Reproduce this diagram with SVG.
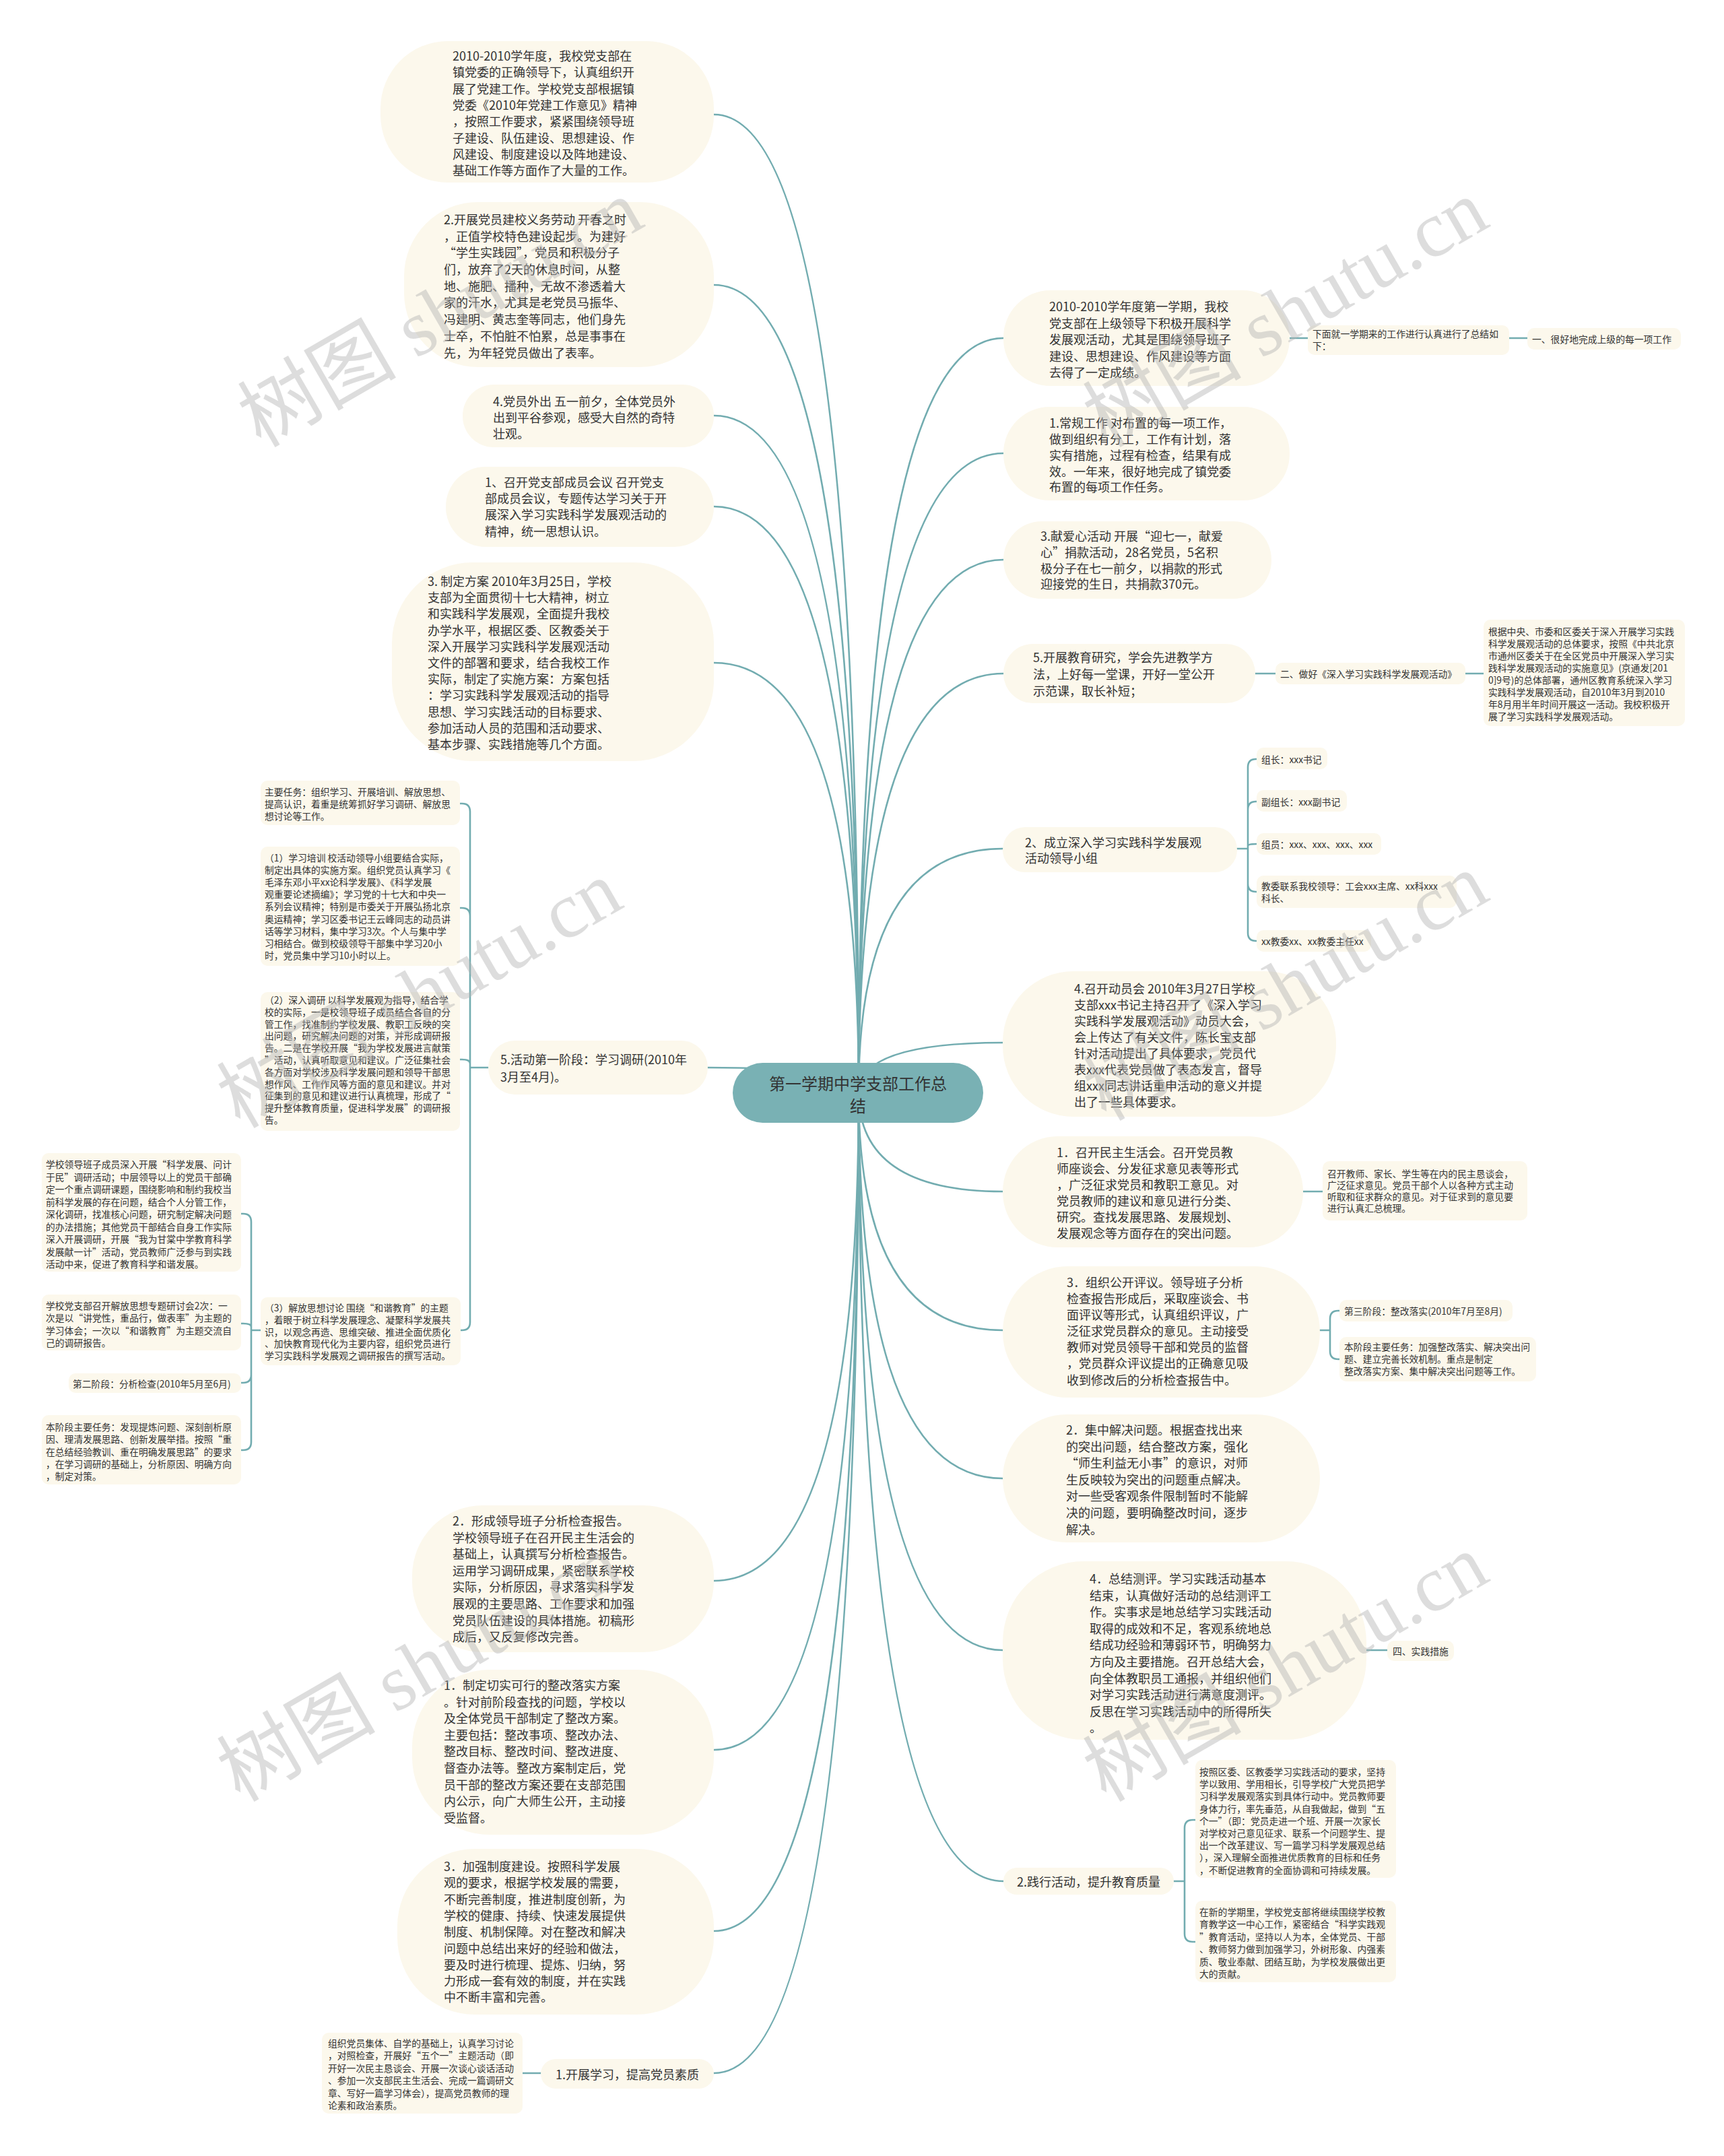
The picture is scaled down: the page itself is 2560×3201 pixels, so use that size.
<svg xmlns="http://www.w3.org/2000/svg" width="2560" height="3201" viewBox="0 0 2560 3201">
<style>
.n{fill:#fcf8ec}
.t{font-family:"Noto Sans CJK SC","Noto Sans",sans-serif;fill:#333;dominant-baseline:central}
.b{font-size:18px}
.s{font-size:13.8px}
.m{font-size:24px}
.c{fill:none;stroke:#72acb0;stroke-width:2.6;stroke-linecap:round;stroke-linejoin:round}
.wm{font-family:"Liberation Serif","Noto Sans CJK SC",serif;font-size:118px;fill:#b4b4b4;fill-opacity:.45}
</style>
<rect width="2560" height="3201" fill="#ffffff"/>
<g id="connectors">
<path class="c" d="M1275 1622 Q1275 170 1060 170"/>
<path class="c" d="M1275 1622 Q1275 423 1060 423"/>
<path class="c" d="M1275 1622 Q1275 617 1060 617"/>
<path class="c" d="M1275 1622 Q1275 752 1060 752"/>
<path class="c" d="M1275 1622 Q1275 984 1060 984"/>
<path class="c" d="M1275 1622 Q1275 1585 1051 1585"/>
<path class="c" d="M1275 1622 Q1275 2347 1060 2347"/>
<path class="c" d="M1275 1622 Q1275 2598 1060 2598"/>
<path class="c" d="M1275 1622 Q1275 2867 1060 2867"/>
<path class="c" d="M1275 1622 Q1275 3078 1060 3078"/>
<path class="c" d="M1275 1622 Q1275 502 1490 502"/>
<path class="c" d="M1275 1622 Q1275 673 1490 673"/>
<path class="c" d="M1275 1622 Q1275 831 1490 831"/>
<path class="c" d="M1275 1622 Q1275 1000 1490 1000"/>
<path class="c" d="M1275 1622 Q1275 1260 1489 1260"/>
<path class="c" d="M1275 1622 Q1275 1548 1489 1548"/>
<path class="c" d="M1275 1622 Q1275 1769 1489 1769"/>
<path class="c" d="M1275 1622 Q1275 1975 1489 1975"/>
<path class="c" d="M1275 1622 Q1275 2195 1489 2195"/>
<path class="c" d="M1275 1622 Q1275 2450 1489 2450"/>
<path class="c" d="M1275 1622 Q1275 2793 1490 2793"/>
<path class="c" d="M1915 502 L1942 502 M2241 502 L2268 502"/>
<path class="c" d="M1864 1000 L1894 1000 M2176 1000 L2203 1000"/>
<path class="c" d="M1935 1769 L1964 1769"/>
<path class="c" d="M2029 2450 L2060 2450"/>
<path class="c" d="M803 3078 L776 3078"/>
<path class="c" d="M1837 1260 L1853 1260 M1853 1260 L1853 1139 Q1853 1127 1865 1127 L1866 1127 M1853 1260 L1853 1202 Q1853 1190 1865 1190 L1866 1190 M1853 1260 L1853 1256 Q1853 1253 1866 1253 M1853 1260 L1853 1312 Q1853 1324 1865 1324 L1866 1324 M1853 1260 L1853 1385 Q1853 1397 1865 1397 L1866 1397"/>
<path class="c" d="M1960 1975 L1975 1975 M1975 1975 L1975 1958 Q1975 1946 1987 1946 L1989 1946 M1975 1975 L1975 2006 Q1975 2018 1987 2018 L1989 2018"/>
<path class="c" d="M1743 2793 L1759 2793 M1759 2793 L1759 2714 Q1759 2702 1771 2702 L1775 2702 M1759 2793 L1759 2871 Q1759 2883 1771 2883 L1775 2883"/>
<path class="c" d="M725 1585 L698 1585 M698 1585 L698 1205 Q698 1193 686 1193 L683 1193 M698 1585 L698 1360 Q698 1348 686 1348 L683 1348 M698 1585 L698 1579 Q698 1573 686 1573 L683 1573 M698 1585 L698 1963 Q698 1975 686 1975 L684 1975"/>
<path class="c" d="M387 1975 L373 1975 M373 1975 L373 1814 Q373 1802 361 1802 L358 1802 M373 1975 L373 1970 Q373 1965 361 1965 L358 1965 M373 1975 L373 2041 Q373 2053 361 2053 L358 2053 M373 1975 L373 2141 Q373 2153 361 2153 L358 2153"/>
</g>

<g id="center">
<rect x="1088" y="1578" width="372" height="89" rx="44.5" fill="#79b1b4"/>
<text class="t m" text-anchor="middle"><tspan x="1274" y="1607">第一学期中学支部工作总</tspan><tspan x="1274" y="1640">结</tspan></text>
</g>

<g id="L1"><rect class="n" x="565" y="61" width="495" height="210" rx="100"/>
<text class="t b"><tspan x="672" y="82">2010-2010学年度，我校党支部在</tspan><tspan x="672" y="106">镇党委的正确领导下，认真组织开</tspan><tspan x="672" y="131">展了党建工作。学校党支部根据镇</tspan><tspan x="672" y="155">党委《2010年党建工作意见》精神</tspan><tspan x="672" y="179">，按照工作要求，紧紧围绕领导班</tspan><tspan x="672" y="204">子建设、队伍建设、思想建设、作</tspan><tspan x="672" y="228">风建设、制度建设以及阵地建设、</tspan><tspan x="672" y="252">基础工作等方面作了大量的工作。</tspan></text></g>

<g id="L2"><rect class="n" x="600" y="300" width="460" height="245" rx="110"/>
<text class="t b"><tspan x="659" y="325">2.开展党员建校义务劳动 开春之时</tspan><tspan x="659" y="350">，正值学校特色建设起步。为建好</tspan><tspan x="659" y="374">“学生实践园”，党员和积极分子</tspan><tspan x="659" y="399">们，放弃了2天的休息时间，从整</tspan><tspan x="659" y="424">地、施肥、播种，无故不渗透着大</tspan><tspan x="659" y="448">家的汗水，尤其是老党员马振华、</tspan><tspan x="659" y="473">冯建明、黄志奎等同志，他们身先</tspan><tspan x="659" y="498">士卒，不怕脏不怕累，总是事事在</tspan><tspan x="659" y="523">先，为年轻党员做出了表率。</tspan></text></g>

<g id="L3"><rect class="n" x="687" y="571" width="373" height="93" rx="46"/>
<text class="t b"><tspan x="732" y="595">4.党员外出 五一前夕，全体党员外</tspan><tspan x="732" y="619">出到平谷参观，感受大自然的奇特</tspan><tspan x="732" y="643">壮观。</tspan></text></g>

<g id="L4"><rect class="n" x="662" y="693" width="398" height="119" rx="59"/>
<text class="t b"><tspan x="720" y="715">1、召开党支部成员会议 召开党支</tspan><tspan x="720" y="739">部成员会议，专题传达学习关于开</tspan><tspan x="720" y="763">展深入学习实践科学发展观活动的</tspan><tspan x="720" y="788">精神，统一思想认识。</tspan></text></g>

<g id="L5"><rect class="n" x="582" y="835" width="478" height="295" rx="120"/>
<text class="t b"><tspan x="635" y="862">3. 制定方案 2010年3月25日，学校</tspan><tspan x="635" y="886">支部为全面贯彻十七大精神，树立</tspan><tspan x="635" y="910">和实践科学发展观，全面提升我校</tspan><tspan x="635" y="935">办学水平，根据区委、区教委关于</tspan><tspan x="635" y="959">深入开展学习实践科学发展观活动</tspan><tspan x="635" y="983">文件的部署和要求，结合我校工作</tspan><tspan x="635" y="1007">实际，制定了实施方案：方案包括</tspan><tspan x="635" y="1031">：学习实践科学发展观活动的指导</tspan><tspan x="635" y="1056">思想、学习实践活动的目标要求、</tspan><tspan x="635" y="1080">参加活动人员的范围和活动要求、</tspan><tspan x="635" y="1104">基本步骤、实践措施等几个方面。</tspan></text></g>

<g id="L6"><rect class="n" x="725" y="1545" width="326" height="80" rx="40"/>
<text class="t b"><tspan x="743" y="1572">5.活动第一阶段：学习调研(2010年</tspan><tspan x="743" y="1598">3月至4月)。</tspan></text></g>

<g id="C1"><rect class="n" x="387" y="1159" width="296" height="66" rx="10"/>
<text class="t s"><tspan x="393" y="1175">主要任务：组织学习、开展培训、解放思想、</tspan><tspan x="393" y="1193">提高认识，着重是统筹抓好学习调研、解放思</tspan><tspan x="393" y="1211">想讨论等工作。</tspan></text></g>

<g id="C2"><rect class="n" x="387" y="1257" width="296" height="177" rx="10"/>
<text class="t s"><tspan x="393" y="1273">（1）学习培训 校活动领导小组要结合实际，</tspan><tspan x="393" y="1291">制定出具体的实施方案。组织党员认真学习《</tspan><tspan x="393" y="1309">毛泽东邓小平xx论科学发展》、《科学发展</tspan><tspan x="393" y="1327">观重要论述摘编》；学习党的十七大和中央一</tspan><tspan x="393" y="1345">系列会议精神；特别是市委关于开展弘扬北京</tspan><tspan x="393" y="1364">奥运精神；学习区委书记王云峰同志的动员讲</tspan><tspan x="393" y="1382">话等学习材料，集中学习3次。个人与集中学</tspan><tspan x="393" y="1400">习相结合。做到校级领导干部集中学习20小</tspan><tspan x="393" y="1418">时，党员集中学习10小时以上。</tspan></text></g>

<g id="C3"><rect class="n" x="387" y="1473" width="296" height="206" rx="10"/>
<text class="t s"><tspan x="393" y="1484">（2）深入调研 以科学发展观为指导，结合学</tspan><tspan x="393" y="1502">校的实际，一是校领导班子成员结合各自的分</tspan><tspan x="393" y="1520">管工作，找准制约学校发展、教职工反映的突</tspan><tspan x="393" y="1537">出问题，研究解决问题的对策，并形成调研报</tspan><tspan x="393" y="1555">告。二是在学校开展“我为学校发展进言献策</tspan><tspan x="393" y="1573">”活动，认真听取意见和建议。广泛征集社会</tspan><tspan x="393" y="1591">各方面对学校涉及科学发展问题和领导干部思</tspan><tspan x="393" y="1609">想作风、工作作风等方面的意见和建议。并对</tspan><tspan x="393" y="1626">征集到的意见和建议进行认真梳理，形成了“</tspan><tspan x="393" y="1644">提升整体教育质量，促进科学发展”的调研报</tspan><tspan x="393" y="1662">告。</tspan></text></g>

<g id="C4"><rect class="n" x="387" y="1926" width="297" height="101" rx="10"/>
<text class="t s"><tspan x="393" y="1941">（3）解放思想讨论 围绕“和谐教育”的主题</tspan><tspan x="393" y="1959">，着眼于树立科学发展理念、凝聚科学发展共</tspan><tspan x="393" y="1977">识，以观念再造、思维突破、推进全面优质化</tspan><tspan x="393" y="1994">、加快教育现代化为主要内容，组织党员进行</tspan><tspan x="393" y="2012">学习实践科学发展观之调研报告的撰写活动。</tspan></text></g>

<g id="D1"><rect class="n" x="62" y="1712" width="296" height="176" rx="10"/>
<text class="t s"><tspan x="68" y="1728">学校领导班子成员深入开展“科学发展、问计</tspan><tspan x="68" y="1747">于民”调研活动；中层领导以上的党员干部确</tspan><tspan x="68" y="1765">定一个重点调研课题，围绕影响和制约我校当</tspan><tspan x="68" y="1784">前科学发展的存在问题，结合个人分管工作，</tspan><tspan x="68" y="1802">深化调研，找准核心问题，研究制定解决问题</tspan><tspan x="68" y="1821">的办法措施；其他党员干部结合自身工作实际</tspan><tspan x="68" y="1839">深入开展调研，开展“我为甘棠中学教育科学</tspan><tspan x="68" y="1858">发展献一计”活动，党员教师广泛参与到实践</tspan><tspan x="68" y="1876">活动中来，促进了教育科学和谐发展。</tspan></text></g>

<g id="D2"><rect class="n" x="62" y="1922" width="296" height="83" rx="10"/>
<text class="t s"><tspan x="68" y="1938">学校党支部召开解放思想专题研讨会2次：一</tspan><tspan x="68" y="1956">次是以“讲党性，重品行，做表率”为主题的</tspan><tspan x="68" y="1975">学习体会；一次以“和谐教育”为主题交流自</tspan><tspan x="68" y="1993">己的调研报告。</tspan></text></g>

<g id="D3"><rect class="n" x="102" y="2039" width="256" height="29" rx="10"/>
<text class="t s"><tspan x="108" y="2054">第二阶段：分析检查(2010年5月至6月)</tspan></text></g>

<g id="D4"><rect class="n" x="62" y="2101" width="296" height="103" rx="10"/>
<text class="t s"><tspan x="68" y="2118">本阶段主要任务：发现提炼问题、深刻剖析原</tspan><tspan x="68" y="2136">因、理清发展思路、创新发展举措。按照“重</tspan><tspan x="68" y="2155">在总结经验教训、重在明确发展思路”的要求</tspan><tspan x="68" y="2173">，在学习调研的基础上，分析原因、明确方向</tspan><tspan x="68" y="2191">，制定对策。</tspan></text></g>

<g id="L7"><rect class="n" x="612" y="2235" width="448" height="218" rx="105"/>
<text class="t b"><tspan x="672" y="2257">2．形成领导班子分析检查报告。</tspan><tspan x="672" y="2282">学校领导班子在召开民主生活会的</tspan><tspan x="672" y="2306">基础上，认真撰写分析检查报告。</tspan><tspan x="672" y="2331">运用学习调研成果，紧密联系学校</tspan><tspan x="672" y="2355">实际，分析原因，寻求落实科学发</tspan><tspan x="672" y="2380">展观的主要思路、工作要求和加强</tspan><tspan x="672" y="2405">党员队伍建设的具体措施。初稿形</tspan><tspan x="672" y="2429">成后，又反复修改完善。</tspan></text></g>

<g id="L8"><rect class="n" x="612" y="2479" width="448" height="245" rx="115"/>
<text class="t b"><tspan x="659" y="2501">1．制定切实可行的整改落实方案</tspan><tspan x="659" y="2526">。针对前阶段查找的问题，学校以</tspan><tspan x="659" y="2550">及全体党员干部制定了整改方案。</tspan><tspan x="659" y="2575">主要包括：整改事项、整改办法、</tspan><tspan x="659" y="2599">整改目标、整改时间、整改进度、</tspan><tspan x="659" y="2624">督查办法等。整改方案制定后，党</tspan><tspan x="659" y="2649">员干部的整改方案还要在支部范围</tspan><tspan x="659" y="2673">内公示，向广大师生公开，主动接</tspan><tspan x="659" y="2698">受监督。</tspan></text></g>

<g id="L9"><rect class="n" x="590" y="2745" width="470" height="246" rx="115"/>
<text class="t b"><tspan x="659" y="2770">3．加强制度建设。按照科学发展</tspan><tspan x="659" y="2794">观的要求，根据学校发展的需要，</tspan><tspan x="659" y="2819">不断完善制度，推进制度创新，为</tspan><tspan x="659" y="2843">学校的健康、持续、快速发展提供</tspan><tspan x="659" y="2867">制度、机制保障。对在整改和解决</tspan><tspan x="659" y="2892">问题中总结出来好的经验和做法，</tspan><tspan x="659" y="2916">要及时进行梳理、提炼、归纳，努</tspan><tspan x="659" y="2940">力形成一套有效的制度，并在实践</tspan><tspan x="659" y="2964">中不断丰富和完善。</tspan></text></g>

<g id="L10"><rect class="n" x="803" y="3057" width="257" height="44" rx="22"/>
<text class="t b"><tspan x="825" y="3079">1.开展学习，提高党员素质</tspan></text></g>

<g id="L10a"><rect class="n" x="478" y="3018" width="298" height="120" rx="10"/>
<text class="t s"><tspan x="487" y="3033">组织党员集体、自学的基础上，认真学习讨论</tspan><tspan x="487" y="3051">，对照检查，开展好“五个一”主题活动（即</tspan><tspan x="487" y="3070">开好一次民主恳谈会、开展一次谈心谈话活动</tspan><tspan x="487" y="3088">、参加一次支部民主生活会、完成一篇调研文</tspan><tspan x="487" y="3107">章、写好一篇学习体会），提高党员教师的理</tspan><tspan x="487" y="3125">论素和政治素质。</tspan></text></g>

<g id="R1"><rect class="n" x="1490" y="431" width="425" height="142" rx="70"/>
<text class="t b"><tspan x="1558" y="454">2010-2010学年度第一学期，我校</tspan><tspan x="1558" y="479">党支部在上级领导下积极开展科学</tspan><tspan x="1558" y="503">发展观活动，尤其是围绕领导班子</tspan><tspan x="1558" y="528">建设、思想建设、作风建设等方面</tspan><tspan x="1558" y="552">去得了一定成绩。</tspan></text></g>

<g id="R1a"><rect class="n" x="1942" y="483" width="299" height="44" rx="10"/>
<text class="t s"><tspan x="1949" y="495">下面就一学期来的工作进行认真进行了总结如</tspan><tspan x="1949" y="513">下：</tspan></text></g>

<g id="R1b"><rect class="n" x="2268" y="487" width="228" height="32" rx="10"/>
<text class="t s"><tspan x="2275" y="503">一、很好地完成上级的每一项工作</tspan></text></g>

<g id="R2"><rect class="n" x="1490" y="604" width="425" height="139" rx="69"/>
<text class="t b"><tspan x="1558" y="627">1.常规工作 对布置的每一项工作，</tspan><tspan x="1558" y="651">做到组织有分工，工作有计划，落</tspan><tspan x="1558" y="675">实有措施，过程有检查，结果有成</tspan><tspan x="1558" y="699">效。一年来，很好地完成了镇党委</tspan><tspan x="1558" y="722">布置的每项工作任务。</tspan></text></g>

<g id="R3"><rect class="n" x="1490" y="774" width="398" height="115" rx="57"/>
<text class="t b"><tspan x="1545" y="795">3.献爱心活动 开展“迎七一，献爱</tspan><tspan x="1545" y="819">心”捐款活动，28名党员，5名积</tspan><tspan x="1545" y="843">极分子在七一前夕，以捐款的形式</tspan><tspan x="1545" y="866">迎接党的生日，共捐款370元。</tspan></text></g>

<g id="R4"><rect class="n" x="1490" y="956" width="374" height="88" rx="44"/>
<text class="t b"><tspan x="1534" y="975">5.开展教育研究，学会先进教学方</tspan><tspan x="1534" y="1000">法，上好每一堂课，开好一堂公开</tspan><tspan x="1534" y="1025">示范课，取长补短；</tspan></text></g>

<g id="R4a"><rect class="n" x="1894" y="984" width="282" height="32" rx="10"/>
<text class="t s"><tspan x="1901" y="1000">二、做好《深入学习实践科学发展观活动》</tspan></text></g>

<g id="R4b"><rect class="n" x="2203" y="920" width="299" height="158" rx="10"/>
<text class="t s"><tspan x="2210" y="937">根据中央、市委和区委关于深入开展学习实践</tspan><tspan x="2210" y="955">科学发展观活动的总体要求，按照《中共北京</tspan><tspan x="2210" y="973">市通州区委关于在全区党员中开展深入学习实</tspan><tspan x="2210" y="991">践科学发展观活动的实施意见》(京通发[201</tspan><tspan x="2210" y="1009">0]9号)的总体部署，通州区教育系统深入学习</tspan><tspan x="2210" y="1027">实践科学发展观活动，自2010年3月到2010</tspan><tspan x="2210" y="1045">年8月用半年时间开展这一活动。我校积极开</tspan><tspan x="2210" y="1063">展了学习实践科学发展观活动。</tspan></text></g>

<g id="R5"><rect class="n" x="1489" y="1228" width="348" height="67" rx="33"/>
<text class="t b"><tspan x="1522" y="1250">2、成立深入学习实践科学发展观</tspan><tspan x="1522" y="1273">活动领导小组</tspan></text></g>
<g id="R5a"><rect class="n" x="1866" y="1110" width="105" height="32" rx="10"/><text class="t s"><tspan x="1873" y="1127">组长：xxx书记</tspan></text></g>
<g id="R5b"><rect class="n" x="1866" y="1173" width="134" height="32" rx="10"/><text class="t s"><tspan x="1873" y="1190">副组长：xxx副书记</tspan></text></g>
<g id="R5c"><rect class="n" x="1866" y="1237" width="185" height="32" rx="10"/><text class="t s"><tspan x="1873" y="1253">组员：xxx、xxx、xxx、xxx</tspan></text></g>
<g id="R5d"><rect class="n" x="1866" y="1300" width="297" height="48" rx="10"/><text class="t s"><tspan x="1873" y="1315">教委联系我校领导：工会xxx主席、xx科xxx</tspan><tspan x="1873" y="1333">科长、</tspan></text></g>
<g id="R5e"><rect class="n" x="1866" y="1381" width="170" height="32" rx="10"/><text class="t s"><tspan x="1873" y="1397">xx教委xx、xx教委主任xx</tspan></text></g>

<g id="R6"><rect class="n" x="1489" y="1442" width="495" height="216" rx="105"/>
<text class="t b"><tspan x="1595" y="1467">4.召开动员会 2010年3月27日学校</tspan><tspan x="1595" y="1491">支部xxx书记主持召开了《深入学习</tspan><tspan x="1595" y="1515">实践科学发展观活动》动员大会，</tspan><tspan x="1595" y="1539">会上传达了有关文件，陈长宝支部</tspan><tspan x="1595" y="1563">针对活动提出了具体要求，党员代</tspan><tspan x="1595" y="1587">表xxx代表党员做了表态发言，督导</tspan><tspan x="1595" y="1611">组xxx同志讲话重申活动的意义并提</tspan><tspan x="1595" y="1635">出了一些具体要求。</tspan></text></g>

<g id="R7"><rect class="n" x="1489" y="1687" width="446" height="165" rx="82"/>
<text class="t b"><tspan x="1569" y="1710">1．召开民主生活会。召开党员教</tspan><tspan x="1569" y="1734">师座谈会、分发征求意见表等形式</tspan><tspan x="1569" y="1758">，广泛征求党员和教职工意见。对</tspan><tspan x="1569" y="1782">党员教师的建议和意见进行分类、</tspan><tspan x="1569" y="1806">研究。查找发展思路、发展规划、</tspan><tspan x="1569" y="1830">发展观念等方面存在的突出问题。</tspan></text></g>

<g id="R7a"><rect class="n" x="1964" y="1724" width="304" height="88" rx="10"/>
<text class="t s"><tspan x="1971" y="1742">召开教师、家长、学生等在内的民主恳谈会，</tspan><tspan x="1971" y="1759">广泛征求意见。党员干部个人以各种方式主动</tspan><tspan x="1971" y="1776">听取和征求群众的意见。对于征求到的意见要</tspan><tspan x="1971" y="1793">进行认真汇总梳理。</tspan></text></g>

<g id="R8"><rect class="n" x="1489" y="1880" width="471" height="195" rx="97"/>
<text class="t b"><tspan x="1584" y="1903">3．组织公开评议。领导班子分析</tspan><tspan x="1584" y="1927">检查报告形成后，采取座谈会、书</tspan><tspan x="1584" y="1951">面评议等形式，认真组织评议，广</tspan><tspan x="1584" y="1975">泛征求党员群众的意见。主动接受</tspan><tspan x="1584" y="1999">教师对党员领导干部和党员的监督</tspan><tspan x="1584" y="2023">，党员群众评议提出的正确意见吸</tspan><tspan x="1584" y="2048">收到修改后的分析检查报告中。</tspan></text></g>

<g id="R8a"><rect class="n" x="1989" y="1930" width="257" height="32" rx="10"/>
<text class="t s"><tspan x="1996" y="1946">第三阶段：整改落实(2010年7月至8月)</tspan></text></g>

<g id="R8b"><rect class="n" x="1989" y="1985" width="292" height="66" rx="10"/>
<text class="t s"><tspan x="1996" y="1999">本阶段主要任务：加强整改落实、解决突出问</tspan><tspan x="1996" y="2017">题、建立完善长效机制。重点是制定</tspan><tspan x="1996" y="2035">整改落实方案、集中解决突出问题等工作。</tspan></text></g>

<g id="R9"><rect class="n" x="1489" y="2100" width="471" height="190" rx="95"/>
<text class="t b"><tspan x="1583" y="2122">2．集中解决问题。根据查找出来</tspan><tspan x="1583" y="2147">的突出问题，结合整改方案，强化</tspan><tspan x="1583" y="2171">“师生利益无小事”的意识，对师</tspan><tspan x="1583" y="2196">生反映较为突出的问题重点解决。</tspan><tspan x="1583" y="2220">对一些受客观条件限制暂时不能解</tspan><tspan x="1583" y="2245">决的问题，要明确整改时间，逐步</tspan><tspan x="1583" y="2270">解决。</tspan></text></g>

<g id="R10"><rect class="n" x="1489" y="2318" width="540" height="265" rx="120"/>
<text class="t b"><tspan x="1618" y="2343">4．总结测评。学习实践活动基本</tspan><tspan x="1618" y="2368">结束，认真做好活动的总结测评工</tspan><tspan x="1618" y="2392">作。实事求是地总结学习实践活动</tspan><tspan x="1618" y="2417">取得的成效和不足，客观系统地总</tspan><tspan x="1618" y="2441">结成功经验和薄弱环节，明确努力</tspan><tspan x="1618" y="2466">方向及主要措施。召开总结大会，</tspan><tspan x="1618" y="2491">向全体教职员工通报，并组织他们</tspan><tspan x="1618" y="2515">对学习实践活动进行满意度测评。</tspan><tspan x="1618" y="2540">反思在学习实践活动中的所得所失</tspan><tspan x="1618" y="2564">。</tspan></text></g>

<g id="R10a"><rect class="n" x="2060" y="2436" width="99" height="30" rx="10"/>
<text class="t s"><tspan x="2068" y="2451">四、实践措施</tspan></text></g>

<g id="R11"><rect class="n" x="1490" y="2773" width="253" height="40" rx="20"/>
<text class="t b"><tspan x="1510" y="2793">2.践行活动，提升教育质量</tspan></text></g>

<g id="R11a"><rect class="n" x="1775" y="2613" width="298" height="175" rx="10"/>
<text class="t s"><tspan x="1781" y="2630">按照区委、区教委学习实践活动的要求，坚持</tspan><tspan x="1781" y="2648">学以致用、学用相长，引导学校广大党员把学</tspan><tspan x="1781" y="2666">习科学发展观落实到具体行动中。党员教师要</tspan><tspan x="1781" y="2685">身体力行，率先垂范，从自我做起，做到“五</tspan><tspan x="1781" y="2703">个一”（即：党员走进一个班、开展一次家长</tspan><tspan x="1781" y="2721">对学校对己意见征求、联系一个问题学生、提</tspan><tspan x="1781" y="2739">出一个改革建议、写一篇学习科学发展观总结</tspan><tspan x="1781" y="2757">），深入理解全面推进优质教育的目标和任务</tspan><tspan x="1781" y="2776">，不断促进教育的全面协调和可持续发展。</tspan></text></g>

<g id="R11b"><rect class="n" x="1775" y="2822" width="298" height="121" rx="10"/>
<text class="t s"><tspan x="1781" y="2838">在新的学期里，学校党支部将继续围绕学校教</tspan><tspan x="1781" y="2856">育教学这一中心工作，紧密结合“科学实践观</tspan><tspan x="1781" y="2875">”教育活动，坚持以人为本，全体党员、干部</tspan><tspan x="1781" y="2893">、教师努力做到加强学习，外树形象、内强素</tspan><tspan x="1781" y="2912">质、敬业奉献、团结互助，为学校发展做出更</tspan><tspan x="1781" y="2930">大的贡献。</tspan></text></g>

<g id="watermarks">
<text class="wm" text-anchor="middle" transform="translate(674 500) rotate(-30)">树图 shutu.cn</text>
<text class="wm" text-anchor="middle" transform="translate(1929 500) rotate(-30)">树图 shutu.cn</text>
<text class="wm" text-anchor="middle" transform="translate(643 1511) rotate(-30)">树图 shutu.cn</text>
<text class="wm" text-anchor="middle" transform="translate(1929 1500) rotate(-30)">树图 shutu.cn</text>
<text class="wm" text-anchor="middle" transform="translate(643 2511) rotate(-30)">树图 shutu.cn</text>
<text class="wm" text-anchor="middle" transform="translate(1929 2511) rotate(-30)">树图 shutu.cn</text>
</g>
</svg>
